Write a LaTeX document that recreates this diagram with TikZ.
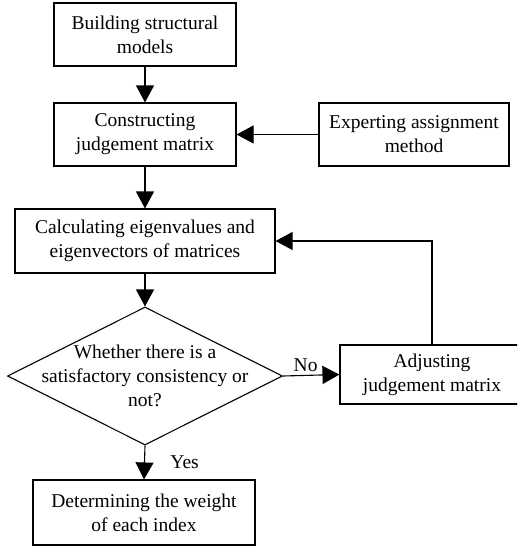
\documentclass[tikz,border=0pt]{standalone}
\usepackage{fontspec}
\setmainfont{Liberation Serif}
\usepackage{tikz}
\usetikzlibrary{positioning}
\usetikzlibrary{arrows.meta,shapes.geometric}

\begin{document}
\begin{tikzpicture}[x=1pt,y=-1pt,line width=1.1pt,
	font=\fontsize{19.5pt}{24pt}\selectfont,
	box/.style={draw,rectangle,align=center,inner sep=0pt},
	arr/.style={-{Triangle[length=17pt,width=18pt]}}]
	  \clip (0,0) rectangle (517,546);
	  \node (A) [box,minimum width=182pt,minimum height=63pt] at (145,34.5) {Building structural\\models};
	  \node (B) [box,minimum width=182pt,minimum height=63pt] at (145,134.5) {Constructing\\judgement matrix};
	  \node (C) [box,minimum width=190pt,minimum height=63pt] at (414,134.5) {Experting assignment\\method};
	  \node (D) [box,minimum width=260pt,minimum height=64pt] at (145,241) {Calculating eigenvalues and\\eigenvectors of matrices};
	  \node (E) [draw,diamond,minimum width=275pt,minimum height=138pt,inner sep=0pt] at (145,376) {};
	  \node (E1) [align=center] at (E) {Whether there is a\\satisfactory consistency or\\not?};
	  \node (F) [box,minimum width=184pt,minimum height=59pt] at (432,374.5) {Adjusting\\judgement matrix};
	  \node (G) [box,minimum width=222pt,minimum height=65pt] at (144,512.5) {Determining the weight\\of each index};
	  \draw[arr] (A) -- (B);
	  \draw[arr] (C) -- (B);
	  \draw[arr] (B) -- (D);
	  \draw[arr] (D) -- (E);
	  \draw[arr] (E.east) -- node[above,pos=0.4] {No} (F.west);
	  \draw[arr] (E.south) -- node[right,pos=0.5,xshift=22pt] {Yes} (G.north);
	  \draw[arr] (F.north) |- (D.east);
	\end{tikzpicture}
\end{document}
